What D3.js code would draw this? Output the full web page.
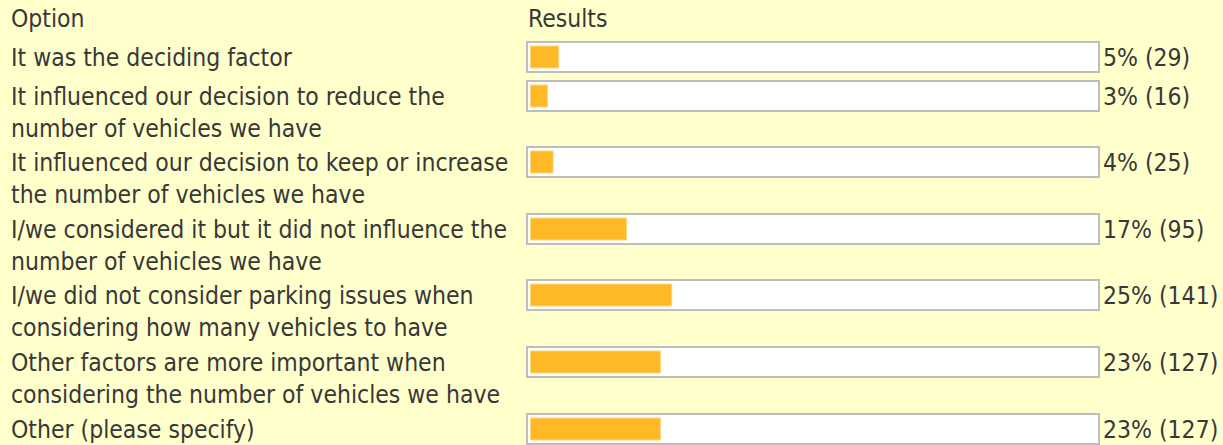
<!DOCTYPE html>
<html>
<head>
<meta charset="utf-8">
<script src="https://cdn.jsdelivr.net/npm/d3@7"></script>
<style>
  html, body { margin: 0; padding: 0; background: #ffffcc; }
  svg { display: block; }
  text { font-family: "DejaVu Sans Condensed", "DejaVu Sans", sans-serif; font-size: 24.5px; fill: #383838; }
</style>
</head>
<body>
<svg></svg>
<script>
// survey answers, wrapped the way the table shows them
const options = [
  ['It was the deciding factor'],
  ['It influenced our decision to reduce the', 'number of vehicles we have'],
  ['It influenced our decision to keep or increase', 'the number of vehicles we have'],
  ['I/we considered it but it did not influence the', 'number of vehicles we have'],
  ['I/we did not consider parking issues when', 'considering how many vehicles to have'],
  ['Other factors are more important when', 'considering the number of vehicles we have'],
  ['Other (please specify)']
];
const percents = [5, 3, 4, 17, 25, 23, 23];
const counts = [29, 16, 25, 95, 141, 127, 127];
const headers = ['Option', 'Results'];

const width = 1223, height = 445;
const labelX = 11, boxX = 527, boxW = 572, boxH = 30;
const lineH = 33.3, minRowH = 38.5, firstRowY = 42;

const svg = d3.select('svg')
  .attr('width', width)
  .attr('height', height);

svg.append('rect')
  .attr('width', width)
  .attr('height', height)
  .attr('fill', '#ffffcc');

// row tops from the number of text lines in each option
const rowTops = [];
options.reduce((y, lines) => {
  rowTops.push(y);
  return y + Math.max(lines.length * lineH, minRowH);
}, firstRowY);

const xScale = d3.scaleLinear()
  .domain([0, 100])
  .range([0, boxW - 7]);

svg.selectAll('.head').data(headers)
  .enter().append('text')
    .attr('class', 'head')
    .attr('x', (d, i) => i === 0 ? labelX : boxX + 1)
    .attr('y', 18)
    .attr('dy', '0.35em')
    .text(d => d);

const row = svg.selectAll('.row').data(options)
  .enter().append('g')
    .attr('class', 'row')
    .attr('transform', (d, i) => `translate(0, ${Math.round(rowTops[i])})`);

row.append('text')
  .attr('x', labelX)
  .attr('y', boxH / 2)
  .selectAll('tspan').data(d => d)
  .enter().append('tspan')
    .attr('x', labelX)
    .attr('dy', (d, i) => i === 0 ? '0.35em' : 32.5)
    .text(d => d);

row.append('rect')
  .attr('x', boxX)
  .attr('y', 0)
  .attr('width', boxW)
  .attr('height', boxH)
  .attr('fill', '#fff')
  .attr('stroke', '#bdbdbd')
  .attr('stroke-width', 2);

row.append('rect')
  .attr('x', boxX + 3.5)
  .attr('y', 4)
  .attr('width', (d, i) => xScale(percents[i]))
  .attr('height', boxH - 8)
  .attr('fill', '#ffb826')
  .attr('stroke', '#ffd77a')
  .attr('stroke-width', 1);

row.append('text')
  .attr('x', boxX + boxW + 4)
  .attr('y', boxH / 2)
  .attr('dy', '0.35em')
  .text((d, i) => `${percents[i]}% (${counts[i]})`);
</script>
</body>
</html>
